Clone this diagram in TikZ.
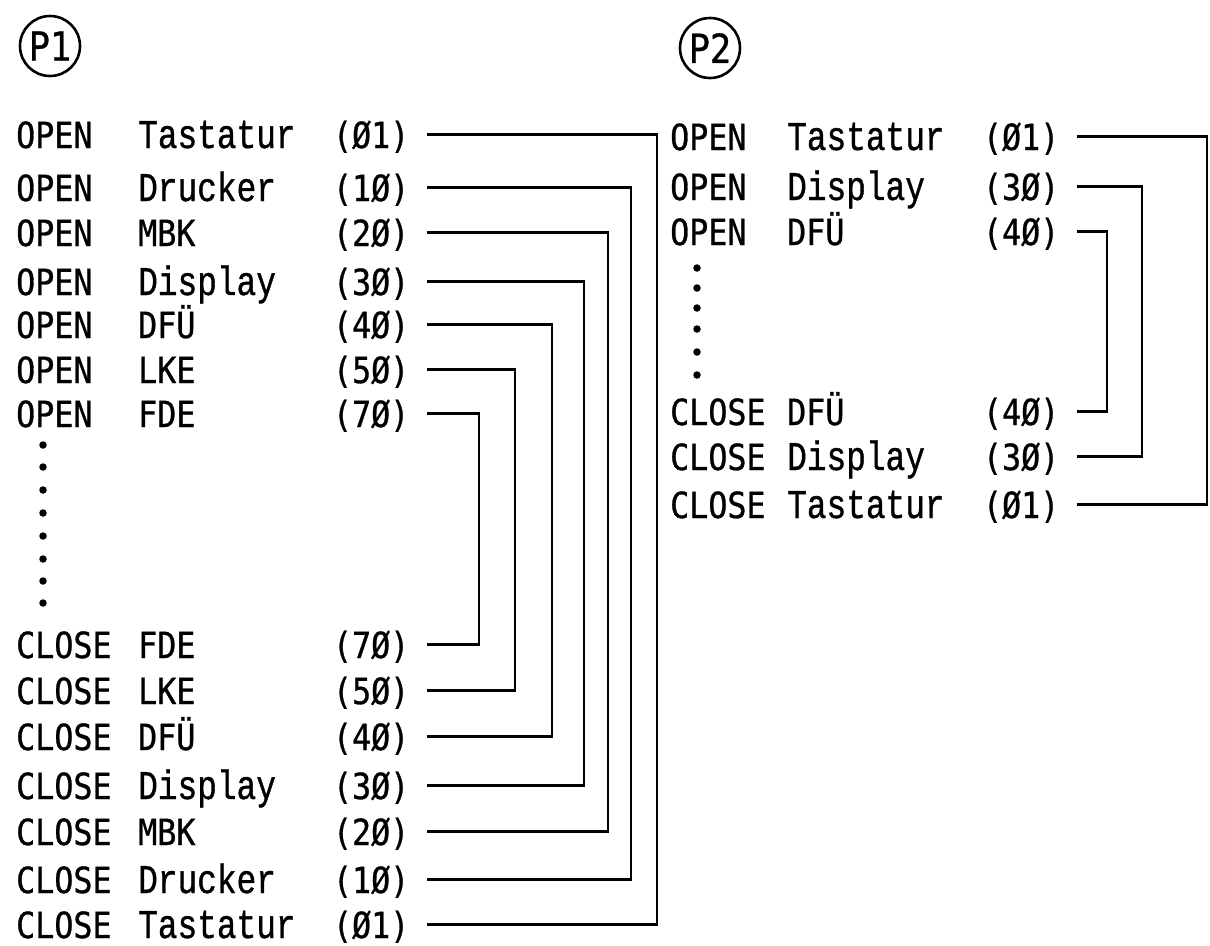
\documentclass[tikz,border=0pt]{standalone}
\usepackage{fontspec}
\newfontfamily\capf[FakeStretch=0.88,FakeBold=0.8]{DejaVu Sans Mono}
\newfontfamily\lowf[FakeStretch=0.8,FakeBold=0.8]{Liberation Mono}
\begin{document}
\begin{tikzpicture}[x=1pt,y=-1pt,
  cw/.style={anchor=base west, inner sep=0pt, font=\capf\fontsize{36}{36}\selectfont},
  lw/.style={anchor=base west, inner sep=0pt, font=\lowf\fontsize{41}{41}\selectfont},
  num/.style={anchor=base west, inner sep=0pt, outer xsep=18pt, text depth=0pt, font=\capf\fontsize{36}{36}\selectfont},
  wire/.style={line width=2.6pt},
  bul/.style={circle, fill, inner sep=0pt, minimum size=7.5pt},
  pc/.style={circle, draw, line width=2.6pt, minimum size=60pt, inner sep=0pt, font=\capf\fontsize{40}{40}\selectfont}
]
\useasboundingbox (0,0) rectangle (1210,945);

% ---------- P1 ----------
\node[pc] (p1) at (50,46) {P1};

\newcommand{\rowP}[6]{% name, y(line), word1, word2, lowercase?, number
  \node[cw] (#1a) at (16,#2+15) {#3};
  \ifnum#5=1
    \node[lw] (#1b) at (138,#2+15) {#4};
  \else
    \node[cw] (#1b) at (138,#2+15) {#4};
  \fi
  \node[num] (#1) at (315,#2+15) {#6};
}
\rowP{aoT}{133}{OPEN}{Tastatur}{1}{(Ø1)}
\rowP{aoD}{186}{OPEN}{Drucker}{1}{(1Ø)}
\rowP{aoM}{231}{OPEN}{MBK}{0}{(2Ø)}
\rowP{aoY}{280}{OPEN}{Display}{1}{(3Ø)}
\rowP{aoF}{323}{OPEN}{DFÜ}{0}{(4Ø)}
\rowP{aoL}{368}{OPEN}{LKE}{0}{(5Ø)}
\rowP{aoE}{412}{OPEN}{FDE}{0}{(7Ø)}

\rowP{acE}{643}{CLOSE}{FDE}{0}{(7Ø)}
\rowP{acL}{689}{CLOSE}{LKE}{0}{(5Ø)}
\rowP{acF}{735}{CLOSE}{DFÜ}{0}{(4Ø)}
\rowP{acY}{784}{CLOSE}{Display}{1}{(3Ø)}
\rowP{acM}{830}{CLOSE}{MBK}{0}{(2Ø)}
\rowP{acD}{878}{CLOSE}{Drucker}{1}{(1Ø)}
\rowP{acT}{923}{CLOSE}{Tastatur}{1}{(Ø1)}

\foreach \y [count=\i] in {445,467,490,513,536,559,581,603}
  \node[bul] (d1\i) at (43,\y) {};

\draw[wire] (aoT.east) -| (657,0 |- acT.east) -- (acT.east);
\draw[wire] (aoD.east) -| (631,0 |- acD.east) -- (acD.east);
\draw[wire] (aoM.east) -| (608,0 |- acM.east) -- (acM.east);
\draw[wire] (aoY.east) -| (584,0 |- acY.east) -- (acY.east);
\draw[wire] (aoF.east) -| (552,0 |- acF.east) -- (acF.east);
\draw[wire] (aoL.east) -| (515,0 |- acL.east) -- (acL.east);
\draw[wire] (aoE.east) -| (479,0 |- acE.east) -- (acE.east);

% ---------- P2 ----------
\node[pc] (p2) at (710,48) {P2};

\newcommand{\rowQ}[6]{%
  \node[cw] (#1a) at (670,#2+15) {#3};
  \ifnum#5=1
    \node[lw] (#1b) at (787,#2+15) {#4};
  \else
    \node[cw] (#1b) at (787,#2+15) {#4};
  \fi
  \node[num] (#1) at (965,#2+15) {#6};
}
\rowQ{boT}{135}{OPEN}{Tastatur}{1}{(Ø1)}
\rowQ{boY}{185}{OPEN}{Display}{1}{(3Ø)}
\rowQ{boF}{230}{OPEN}{DFÜ}{0}{(4Ø)}
\rowQ{bcF}{410}{CLOSE}{DFÜ}{0}{(4Ø)}
\rowQ{bcY}{455}{CLOSE}{Display}{1}{(3Ø)}
\rowQ{bcT}{503}{CLOSE}{Tastatur}{1}{(Ø1)}

\foreach \y [count=\i] in {268,288,308,329,352,375}
  \node[bul] (d2\i) at (697,\y) {};

\draw[wire] (boT.east) -| (1207,0 |- bcT.east) -- (bcT.east);
\draw[wire] (boY.east) -| (1142,0 |- bcY.east) -- (bcY.east);
\draw[wire] (boF.east) -| (1107,0 |- bcF.east) -- (bcF.east);
\end{tikzpicture}
\end{document}
